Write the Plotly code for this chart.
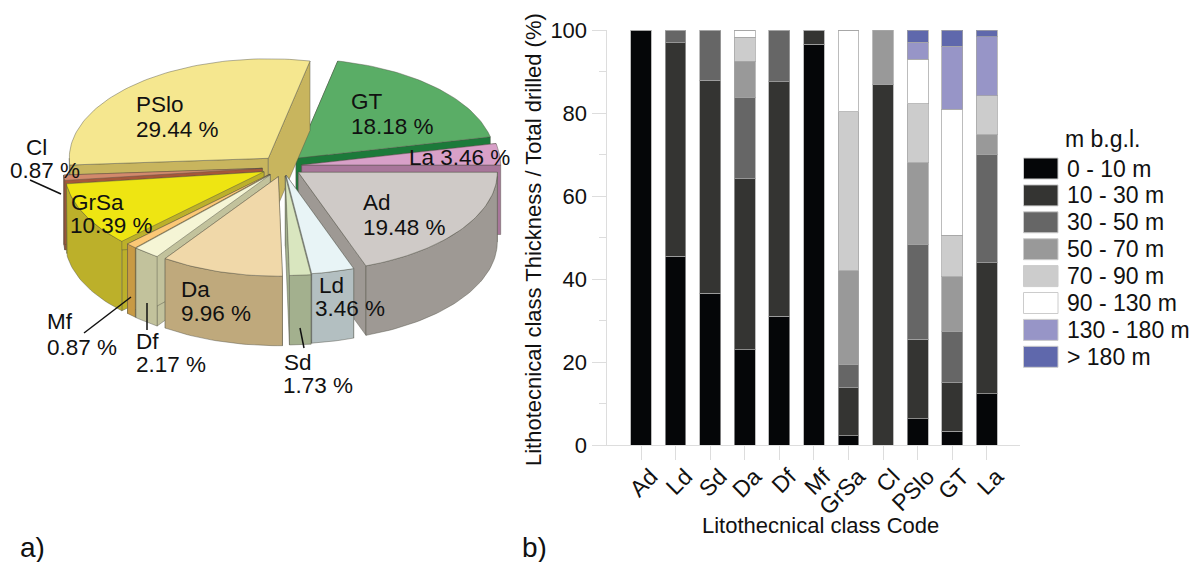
import math
import plotly.graph_objects as go

# ---- data: panel a (share of each class, %)
pie_codes = ["Ad", "Ld", "Sd", "Da", "Df", "Mf", "GrSa", "Cl", "PSlo", "GT", "La"]
pie_shares = [19.48, 3.46, 1.73, 9.96, 2.17, 0.87, 10.39, 0.87, 29.44, 18.18, 3.46]

# ---- data: panel b (thickness share per depth band, %)
bar_codes = ["Ad", "Ld", "Sd", "Da", "Df", "Mf", "GrSa", "Cl", "PSlo", "GT", "La"]
band_names = ["0 - 10 m", "10 - 30 m", "30 - 50 m", "50 - 70 m", "70 - 90 m",
              "90 - 130 m", "130 - 180 m", "> 180 m"]
band_0_10 = [100, 45.5, 36.6, 23.0, 31.0, 96.6, 2.2, 0, 6.3, 3.3, 12.4]
band_10_30 = [0, 51.4, 51.3, 41.2, 56.5, 3.4, 11.6, 86.8, 19.2, 11.7, 31.5]
band_30_50 = [0, 3.1, 12.1, 19.6, 12.5, 0, 5.5, 0, 22.9, 12.3, 26.1]
band_50_70 = [0, 0, 0, 8.7, 0, 0, 22.7, 13.2, 19.6, 13.2, 4.8]
band_70_90 = [0, 0, 0, 5.8, 0, 0, 38.3, 0, 14.2, 10.1, 9.4]
band_90_130 = [0, 0, 0, 1.7, 0, 0, 19.7, 0, 10.7, 30.3, 0]
band_130_180 = [0, 0, 0, 0, 0, 0, 0, 0, 4.1, 15.2, 14.2]
band_180 = [0, 0, 0, 0, 0, 0, 0, 0, 3.0, 3.9, 1.6]
bands = [band_0_10, band_10_30, band_30_50, band_50_70, band_70_90,
         band_90_130, band_130_180, band_180]

# ---- styling
band_colors = ["#050608", "#343432", "#666666", "#999999", "#cccccc", "#ffffff", "#9795c7", "#5f68ac"]
FONT = "Liberation Sans, Arial, sans-serif"
INK = "#111111"
AXIS = "#dddddd"
W, H = 1200, 562
top_colors = dict(Ad="#cfcac7", Ld="#e8f4f6", Sd="#d9e6bf", Da="#f0d8a9", Df="#f5f5d5", Mf="#fcc876",
                  GrSa="#eee512", Cl="#d2896c", PSlo="#f5e78f", GT="#5aad66", La="#d8a0c8")
side_colors = dict(Ad="#9e9994", Ld="#b3bfc1", Sd="#a3b08e", Da="#bfa97c", Df="#c2c29c", Mf="#c89a44",
                   GrSa="#bcb02a", Cl="#a5573a", PSlo="#c8b55e", GT="#1c7a3a", La="#a8769a")
apex = dict(Ad=(298.3, 172.3), Ld=(286, 175), Sd=(285.3, 176), Da=(278.3, 176.7), Df=(270.3, 174.7),
            Mf=(269.7, 174.3), GrSa=(264, 171.7), Cl=(262.3, 168.3), PSlo=(268.3, 158.3),
            GT=(296, 158.3), La=(301.7, 165))
RX, RY, DEPTH = 199, 99.5, 69.5
draw_order = ["GT", "La", "PSlo", "Cl", "GrSa", "Mf", "Df", "Da", "Ad", "Ld", "Sd"]

fig = go.Figure()

# panel b: stacked columns
for name, vals, col in zip(band_names, bands, band_colors):
    fig.add_trace(go.Bar(x=bar_codes, y=vals, name=name, width=0.6, showlegend=False,
                         marker=dict(color=col, line=dict(color="rgba(165,165,165,0.75)", width=1))))

# panel a: exploded 3-D pie, built from the shares
total = sum(pie_shares)
spans = {}
acc = 0.0
for code, share in zip(pie_codes, pie_shares):
    spans[code] = (acc * 360 / total, (acc + share) * 360 / total)
    acc += share


def poly(xs, ys, color):
    fig.add_trace(go.Scatter(x=xs + xs[:1], y=ys + ys[:1], xaxis="x2", yaxis="y2", mode="lines",
                             fill="toself", fillcolor=color, showlegend=False, hoverinfo="skip",
                             line=dict(color="rgba(80,80,70,0.55)", width=0.8)))


def arc(code, a0, a1):
    cx, cy = apex[code]
    n = max(2, int(abs(a1 - a0) / 1.5) + 2)
    angs = [math.radians(a0 + (a1 - a0) * i / (n - 1)) for i in range(n)]
    return [cx + RX * math.cos(t) for t in angs], [cy + RY * math.sin(t) for t in angs]


for code in draw_order:
    a0, a1 = spans[code]
    cx, cy = apex[code]
    for a in (a0, a1):
        ox = cx + RX * math.cos(math.radians(a))
        oy = cy + RY * math.sin(math.radians(a))
        poly([cx, ox, ox, cx], [cy, oy, oy + DEPTH, cy + DEPTH], side_colors[code])
    f0, f1 = max(a0, 0), min(a1, 180)
    if f1 > f0:
        xs, ys = arc(code, f0, f1)
        poly(xs + xs[::-1], ys + [y + DEPTH for y in ys[::-1]], side_colors[code])
    xs, ys = arc(code, a0, a1)
    poly([cx] + xs, [cy] + ys, top_colors[code])

# pie labels: code line and share line
share_of = dict(zip(pie_codes, pie_shares))
label_pos = dict(PSlo=((136, 104), (136, 129)), GT=((351, 101), (351, 126)), Ad=((363, 202), (363, 227)),
                 GrSa=((71, 202), (70, 225)), Cl=((26, 147), (10, 170)), Da=((181, 289), (181, 313)),
                 Ld=((319, 285), (315, 308)), Mf=((47, 321), (47, 347)), Df=((136, 341), (136, 364)),
                 Sd=((284, 362), (283, 385)))
annotations = []


def text(x, y, s, size=22.5, anchor="left", angle=0):
    annotations.append(dict(x=x - 2 if anchor == "left" else x, y=y, xref="x2", yref="y2", text=s,
                            showarrow=False, xanchor=anchor, yanchor="middle", textangle=angle,
                            font=dict(family=FONT, size=size, color=INK)))


for code, (p1, p2) in label_pos.items():
    text(p1[0], p1[1], code)
    text(p2[0], p2[1], f"{share_of[code]:.2f} %")
text(409, 157, f"La {share_of['La']:.2f} %")
text(20, 547, "a)", 28)
text(522, 547, "b)", 28)
text(533, 240, "Lithotecnical class Thickness / Total drilled (%)", 22, "center", -90)
text(820, 525, "Litothecnical class Code", 22, "center")

# leader lines
shapes = []
for (x0, y0, x1, y1) in [(30, 180, 61, 194), (84, 333, 131, 297), (147, 330, 147, 303), (304, 348, 300, 328)]:
    shapes.append(dict(type="line", xref="x2", yref="y2", x0=x0, y0=y0, x1=x1, y1=y1,
                       line=dict(color="#111111", width=1.5)))

# depth-band key
text(1102, 139, "m b.g.l.", 23, "center")
for i, (name, col) in enumerate(zip(band_names, band_colors)):
    y0 = 158 + i * 26.9
    shapes.append(dict(type="rect", xref="x2", yref="y2", x0=1023.5, x1=1058, y0=y0, y1=y0 + 21,
                       fillcolor=col, line=dict(color="#cccccc", width=1)))
    text(1067, y0 + 10.5, name, 23)

fig.update_layout(
    width=W, height=H, margin=dict(l=0, r=0, t=0, b=0), paper_bgcolor="white", plot_bgcolor="rgba(0,0,0,0)",
    barmode="stack", bargap=0.4, font=dict(family=FONT, color=INK), showlegend=False,
    xaxis=dict(domain=[606.5 / W, 1020 / W], type="category", categoryorder="array", categoryarray=bar_codes,
               range=[-0.998, 10.96], showgrid=False, showline=True, linecolor=AXIS, linewidth=1,
               ticks="outside", ticklen=14, tickcolor=AXIS, tickwidth=1, tickangle=-45, automargin=False,
               ticklabelshift=10, ticklabelstandoff=-6,
               tickfont=dict(family=FONT, size=23, color=INK)),
    yaxis=dict(domain=[(H - 445) / H, (H - 30) / H], range=[0, 100], dtick=20, showgrid=False, zeroline=False,
               showline=True, linecolor=AXIS, linewidth=1, ticks="outside", ticklen=14, tickcolor=AXIS,
               tickwidth=1, tickfont=dict(family=FONT, size=22, color=INK), automargin=False,
               minor=dict(dtick=10, ticks="outside", ticklen=7, tickcolor=AXIS, tickwidth=1)),
    xaxis2=dict(domain=[0, 1], range=[0, W], visible=False, anchor="y2", fixedrange=True, automargin=False),
    yaxis2=dict(domain=[0, 1], range=[H, 0], visible=False, anchor="x2", fixedrange=True, automargin=False),
    annotations=annotations, shapes=shapes,
)

fig.write_html("out.html", config=dict(displayModeBar=False),
               post_script="document.body.style.margin='0';")
